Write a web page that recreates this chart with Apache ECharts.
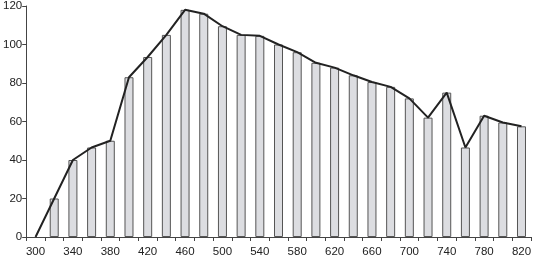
<!DOCTYPE html>
<html><head><meta charset="utf-8">
<script src="https://cdn.jsdelivr.net/npm/echarts@6/dist/echarts.min.js"></script>
<style>html,body{margin:0;padding:0;background:#fff}#c{width:534px;height:258px}</style>
</head><body><div id="c"></div>
<script>
const categories = ['300','320','340','360','380','400','420','440','460','480','500','520','540','560','580','600','620','640','660','680','700','720','740','760','780','800','820'];
const barValues = [null,20,40,46.5,50,83,93.5,105,118,116,109.5,105,104.5,100,96,90.5,88,84,80.5,78,72,62,75,46.5,63,59.5,57.5];
const lineValues = [0,20,40,46.5,50,83,93.5,105,118,116,109.5,105,104.5,100,96,90.5,88,84,80.5,78,72,62,75,46.5,63,59.5,57.5];
const yTicks = [0,20,40,60,80,100,120];

const chart = echarts.init(document.getElementById('c'), null, {renderer:'canvas'});
const font = 'Liberation Sans, Arial, sans-serif';
chart.setOption({
  animation:false,
  grid:{left:23,right:2,top:5,bottom:20},
  xAxis:{
    type:'category', data:categories, boundaryGap:true,
    axisLine:{lineStyle:{color:'#444',width:1}},
    axisTick:{show:true,interval:0,length:4,lineStyle:{color:'#444'}},
    axisLabel:{interval:1,color:'#222',fontFamily:font,fontSize:11.5,margin:9}
  },
  yAxis:{
    type:'value', min:yTicks[0], max:yTicks[yTicks.length-1], interval:20,
    axisLine:{show:true,lineStyle:{color:'#444',width:1}},
    axisTick:{show:true,length:4,lineStyle:{color:'#444'}},
    splitLine:{show:false},
    axisLabel:{color:'#222',fontFamily:font,fontSize:11.5,margin:4}
  },
  series:[
    {type:'bar',data:barValues,barWidth:9,
     itemStyle:{color:'#dcdde1',borderColor:'#555',borderWidth:1}},
    {type:'line',data:lineValues,symbol:'none',
     lineStyle:{color:'#222',width:2},z:5}
  ]
});
</script></body></html>
